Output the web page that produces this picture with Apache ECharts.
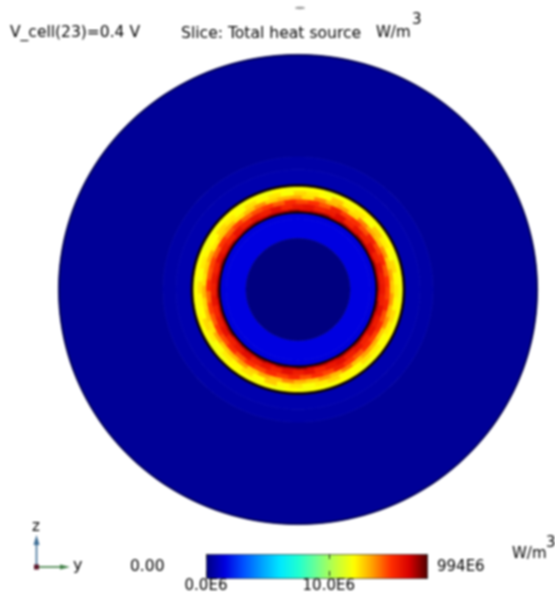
<!DOCTYPE html>
<html><head><meta charset="utf-8">
<script src="https://cdn.jsdelivr.net/npm/echarts@6/dist/echarts.min.js"></script>
<style>html,body{margin:0;padding:0;background:#fff}#main{width:555px;height:594px;filter:blur(0.9px)}</style>
</head><body><div id="main"></div>
<script>
// Smooth bands: inner radius, outer radius, value (E6 W/m^3).
const bandInner = [135, 122, 106, 72, 52, 0];
const bandOuter = [239, 135, 122, 79, 72, 52];
const bandValue = [0.36, 0.6, 0.7, 1.4, 1.5, 0.0];
// Thin near-black rims drawn on top of the field.
const rimInner = [105, 77.8, 238.5];
const rimOuter = [107, 79.2, 239.6];
const rimColor = ['#0c0000', '#0c0000', '#000050'];
// Mottled ring: radial bin edges, then one row of values per bin, 48 sectors from +y going ccw.
const ringEdges = [105, 100, 95.5, 91.5, 87, 81.5, 78.5];
const ringRow0 = [11.8,11.9,11.7,12.0,11.8,11.9,12.1,11.8,11.9,11.7,12.0,11.9,11.8,12.0,11.7,11.9,11.8,12.0,11.9,11.8,11.7,11.9,12.0,11.8,11.9,11.8,12.1,11.9,11.7,11.8,12.0,11.9,11.8,11.9,11.7,12.0,11.8,11.9,11.8,12.0,11.9,11.7,11.8,11.9,12.0,11.8,11.9,11.7];
const ringRow1 = [12.1,12.6,12.0,12.3,12.8,11.9,12.4,12.2,12.9,12.0,12.3,12.6,11.9,12.4,12.1,12.5,11.9,12.3,12.6,12.0,12.1,12.3,11.9,12.5,12.1,12.0,12.6,12.3,11.9,12.3,12.1,12.5,12.0,12.8,12.1,12.4,11.9,12.3,12.6,12.1,12.0,12.5,12.3,11.9,12.3,12.6,12.1,12.3];
const ringRow2 = [13.4,12.8,13.7,13.0,13.3,13.9,12.7,13.5,13.1,13.8,12.6,13.4,13.2,12.8,13.7,13.0,12.5,13.1,12.9,12.4,13.3,12.8,12.5,13.2,12.7,13.0,12.5,13.4,12.9,13.1,13.6,12.8,13.4,13.0,13.8,13.2,12.9,13.6,13.1,13.9,13.0,13.5,13.3,12.9,13.7,13.1,13.6,13.0];
const ringRow3 = [15.0,14.5,15.2,14.7,15.4,14.6,15.1,14.8,15.5,14.5,15.0,14.7,15.2,14.4,14.9,14.6,14.2,14.8,14.4,14.9,14.3,14.7,14.5,15.0,14.3,14.8,14.4,14.9,14.6,15.1,14.5,15.0,14.7,15.2,14.8,15.3,14.6,15.1,14.7,15.5,14.9,14.5,15.2,14.8,15.1,14.6,15.3,14.8];
const ringRow4 = [15.7,16.0,15.5,16.1,15.6,15.9,15.4,16.2,15.7,15.5,16.0,15.8,15.4,16.1,15.6,15.8,15.5,15.9,15.4,15.7,16.0,15.5,15.8,15.6,15.9,15.4,15.7,16.0,15.5,15.8,16.1,15.6,15.9,15.5,16.1,15.7,16.0,15.4,15.8,16.1,15.6,15.9,15.5,16.0,15.7,16.1,15.6,15.8];
const ringRow5 = [16.8,17.1,16.6,16.9,17.2,16.7,17.0,16.6,17.2,16.8,16.6,17.1,16.8,16.9,16.6,17.0,16.8,16.5,16.9,16.7,17.1,16.6,16.8,17.0,16.6,16.9,16.8,17.2,16.6,16.9,16.8,17.1,16.6,17.0,16.8,17.2,16.7,16.9,16.6,17.1,16.8,17.2,16.7,17.0,16.8,17.2,16.6,16.9];
const ringRows = [ringRow0, ringRow1, ringRow2, ringRow3, ringRow4, ringRow5];
const rowTwist = [0, 0.37, 0.71, 0.18, 0.55, 0.9];
const colorStops = ['#000080','#0000e0','#0050ff','#00a0ff','#00e8ff','#20ffd0','#70ff90','#c0ff40','#ffff00','#ffa000','#ff3000','#d80000','#500000'];
const barTicks = [0, 10];
const barMax = 18;
const maxLabel = '994E6';
const minLabel = '0.00';

const cells = [];
bandValue.forEach((v, i) => cells.push([bandInner[i], bandOuter[i], 0, 360, v]));
ringRows.forEach((row, k) => row.forEach((v, j) => {
  const step = 360 / row.length;
  cells.push([ringEdges[k + 1], ringEdges[k], (j + rowTwist[k]) * step, (j + 1 + rowTwist[k]) * step, v]);
}));
const rims = rimInner.map((r, i) => ({ value: [r, rimOuter[i], 0, 360], itemStyle: { color: rimColor[i] } }));

function renderCell(params, api) {
  const r0 = api.value(0), r1 = api.value(1), a0 = api.value(2), a1 = api.value(3);
  const n = Math.max(2, Math.ceil((a1 - a0) / 2));
  const pts = [];
  const at = (r, a) => api.coord([r * Math.cos(a * Math.PI / 180), r * Math.sin(a * Math.PI / 180)]);
  for (let i = 0; i <= n; i++) pts.push(at(r1, a0 + (a1 - a0) * i / n));
  for (let i = n; i >= 0; i--) pts.push(at(r0, a0 + (a1 - a0) * i / n));
  const c = api.visual('color');
  return { type: 'polygon', shape: { points: pts }, style: { fill: c, stroke: c, lineWidth: 0.7 } };
}

const txt = (x, y, s, size, extra) => ({ type: 'text', x, y, silent: true,
  style: Object.assign({ text: s, fill: '#000', fontSize: size, fontFamily: 'DejaVu Sans', textVerticalAlign: 'middle' }, extra || {}) });

const chart = echarts.init(document.getElementById('main'), null, { renderer: 'canvas' });
chart.setOption({
  animation: false,
  backgroundColor: '#fff',
  grid: [
    { left: 59, top: 55, width: 478, height: 469, show: false },
    { left: 206, top: 554, width: 221, height: 24, show: false }
  ],
  xAxis: [
    { gridIndex: 0, type: 'value', min: -239, max: 239, show: false },
    { gridIndex: 1, type: 'value', min: 0, max: barMax, position: 'bottom', z: 20,
      axisLine: { show: false }, splitLine: { show: false },
      axisTick: { show: true, inside: true, length: 5, customValues: barTicks, lineStyle: { color: '#222' } },
      axisLabel: { show: true, customValues: barTicks, margin: 3, color: '#000', fontSize: 15, fontFamily: 'DejaVu Sans',
        formatter: v => v.toFixed(1) + 'E6' } },
    { gridIndex: 1, type: 'value', min: 0, max: barMax, position: 'top', z: 20,
      axisLine: { show: false }, splitLine: { show: false },
      axisTick: { show: true, inside: true, length: 5, customValues: barTicks, lineStyle: { color: '#222' } },
      axisLabel: { show: false } }
  ],
  yAxis: [
    { gridIndex: 0, type: 'value', min: -239, max: 239, show: false },
    { gridIndex: 1, type: 'value', min: 0, max: 1, show: false }
  ],
  visualMap: {
    type: 'continuous', seriesIndex: 0, dimension: 4, min: 0, max: barMax,
    orient: 'horizontal', left: 206, top: 554, itemWidth: 24, itemHeight: 221,
    calculable: false, realtime: false, padding: 0, text: null, showLabel: false,
    borderColor: '#222', borderWidth: 1,
    inRange: { color: colorStops }
  },
  series: [{
    type: 'custom', coordinateSystem: 'cartesian2d', xAxisIndex: 0, yAxisIndex: 0,
    clip: false, silent: true, renderItem: renderCell,
    data: cells, dimensions: ['r0', 'r1', 'a0', 'a1', 'value'],
    encode: { x: [], y: [] }
  }, {
    type: 'custom', coordinateSystem: 'cartesian2d', xAxisIndex: 0, yAxisIndex: 0,
    clip: false, silent: true, renderItem: renderCell, z: 3,
    data: rims, dimensions: ['r0', 'r1', 'a0', 'a1'],
    encode: { x: [], y: [] }
  }],
  graphic: [
    txt(10, 33, 'V_cell(23)=0.4 V', 15.5),
    txt(181, 34, 'Slice: Total heat source', 15.6),
    txt(376, 33, 'W/m', 15),
    txt(412, 20, '3', 15),
    txt(512, 554, 'W/m', 15),
    txt(546, 543, '3', 15),
    txt(130, 567, minLabel, 15.5),
    txt(437, 567, maxLabel, 15),
    txt(32, 527, 'z', 15),
    txt(73, 566, 'y', 16),
    { type: 'ellipse', shape: { cx: 300, cy: 8, rx: 5, ry: 1.2 }, style: { fill: '#999' } },
    { type: 'line', shape: { x1: 36.5, y1: 567, x2: 36.5, y2: 542 }, style: { stroke: '#3f6f96', lineWidth: 1.6 } },
    { type: 'polygon', shape: { points: [[36.5, 535], [33.5, 545], [39.5, 545]] }, style: { fill: '#3f6f96' } },
    { type: 'line', shape: { x1: 36.5, y1: 567, x2: 62, y2: 567 }, style: { stroke: '#3f7f45', lineWidth: 1.6 } },
    { type: 'polygon', shape: { points: [[70, 567], [60, 564.5], [60, 569.5]] }, style: { fill: '#3f7f45' } },
    { type: 'rect', shape: { x: 34, y: 564.5, width: 5, height: 5 }, style: { fill: '#5a1428' } }
  ]
});
</script></body></html>
